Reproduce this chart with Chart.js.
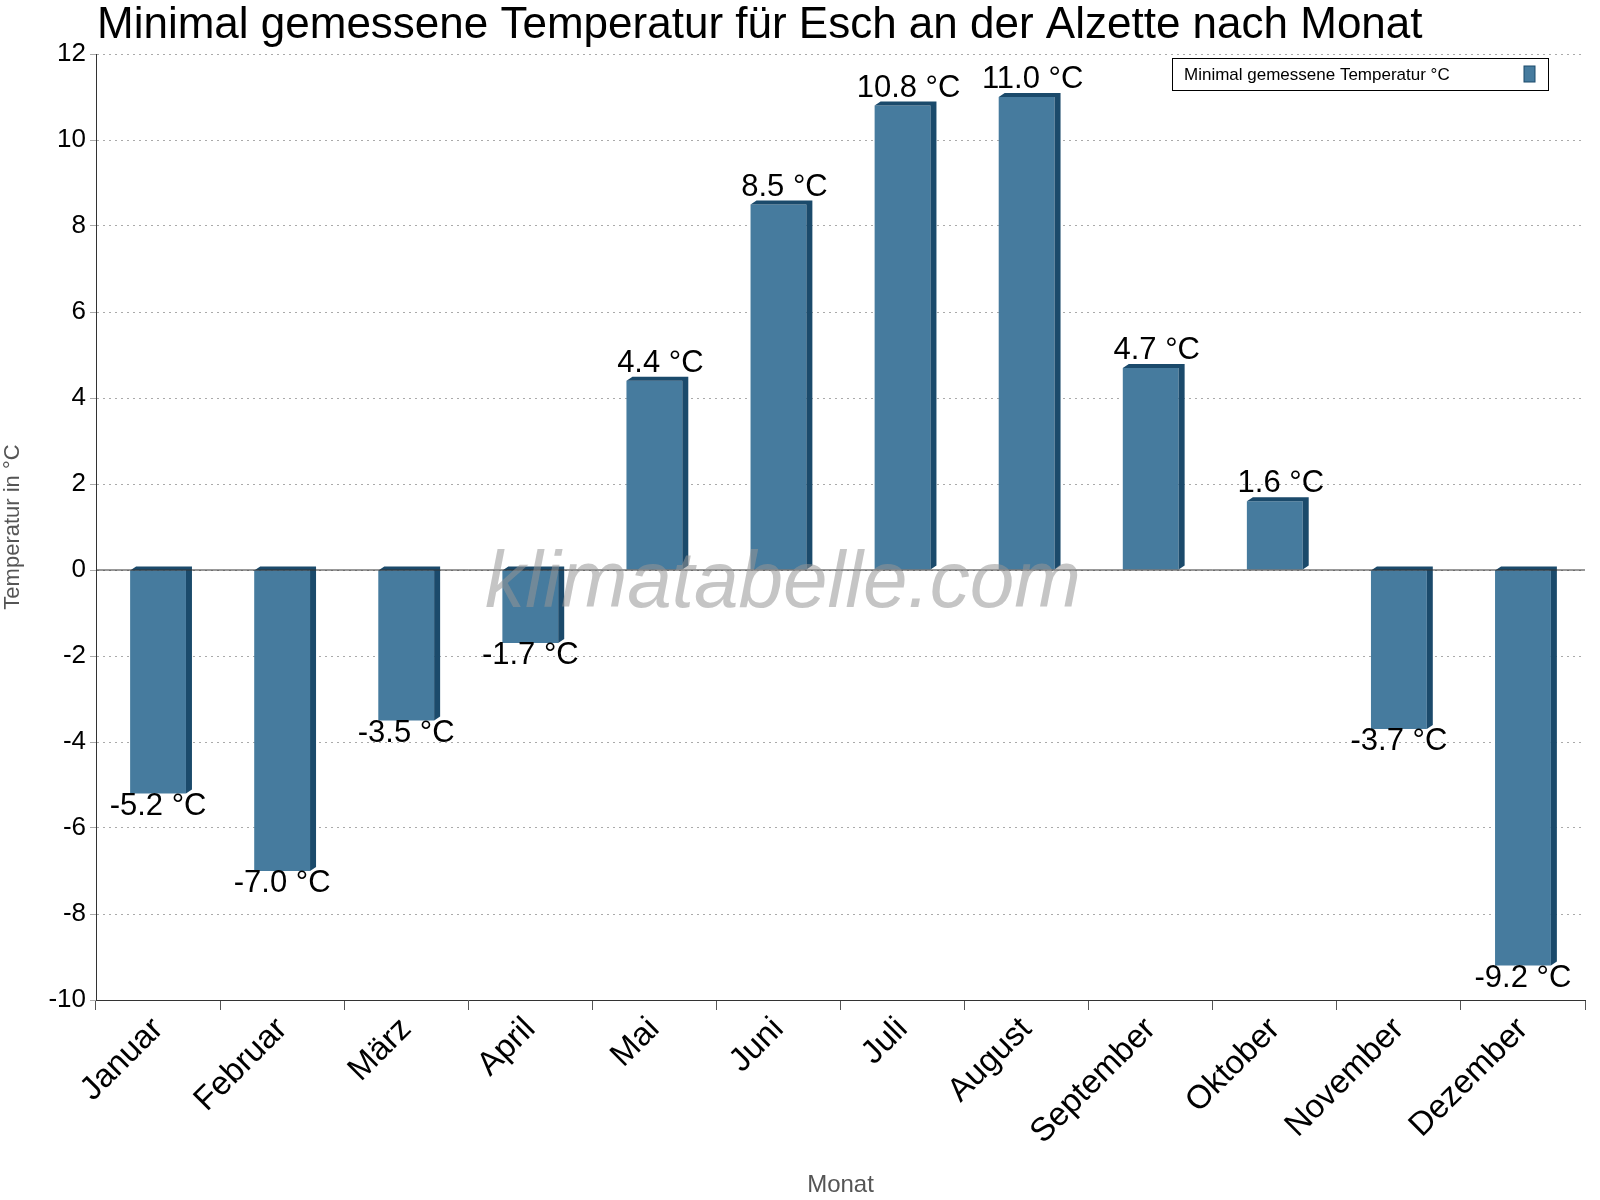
<!DOCTYPE html>
<html><head><meta charset="utf-8">
<script src="https://cdn.jsdelivr.net/npm/chart.js@4/dist/chart.umd.min.js"></script>
<style>html,body{margin:0;padding:0;background:#fff}#w{width:1600px;height:1200px}</style>
</head><body><div id="w"><canvas id="c"></canvas></div>
<script>
const months = ["Januar","Februar","März","April","Mai","Juni","Juli","August","September","Oktober","November","Dezember"];
const minTemps = [-5.2,-7.0,-3.5,-1.7,4.4,8.5,10.8,11.0,4.7,1.6,-3.7,-9.2];
const yTicks = [-10,-8,-6,-4,-2,0,2,4,6,8,10,12];
const F = "Arial, 'Liberation Sans', sans-serif";

const deco = {
  id:'deco',
  afterDatasetsDraw(chart){
    const ctx = chart.ctx, meta = chart.getDatasetMeta(0), ys = chart.scales.y, ca = chart.chartArea;
    const d = 6;
    ctx.save();
    meta.data.forEach((b,i)=>{
      const l = b.x - b.width/2, r = b.x + b.width/2;
      const top = Math.min(b.y, b.base), bot = Math.max(b.y, b.base);
      ctx.fillStyle = '#1b4a6b';
      ctx.beginPath();
      ctx.moveTo(l, top); ctx.lineTo(l+d, top-d/1.5); ctx.lineTo(r+d, top-d/1.5); ctx.lineTo(r+d, bot-d/1.5); ctx.lineTo(r, bot); ctx.lineTo(r, top); ctx.closePath();
      ctx.fill();
      const v = minTemps[i];
      ctx.fillStyle = '#000'; ctx.font = '31px '+F; ctx.textAlign='center';
      if (v >= 0){ ctx.textBaseline='bottom'; ctx.fillText(v.toFixed(1)+' °C', b.x+6, b.y-2); }
      else { ctx.textBaseline='top'; ctx.fillText(v.toFixed(1)+' °C', b.x, b.y-3); }
    });
    const z = ys.getPixelForValue(0);
    ctx.strokeStyle='#333'; ctx.lineWidth=1;
    ctx.beginPath(); ctx.moveTo(ca.left, z); ctx.lineTo(ca.right, z); ctx.stroke();
    ctx.beginPath(); ctx.moveTo(ca.left+0.5, ca.top); ctx.lineTo(ca.left+0.5, ca.bottom); ctx.stroke();
    ctx.fillStyle='rgba(150,150,150,0.55)'; ctx.font='italic 80px '+F; ctx.textAlign='center'; ctx.textBaseline='middle';
    ctx.fillText('klimatabelle.com', 783, 585);
    ctx.fillStyle='#000'; ctx.font='44px '+F; ctx.textAlign='left'; ctx.textBaseline='alphabetic';
    ctx.fillText('Minimal gemessene Temperatur für Esch an der Alzette nach Monat', 97, 38);
    ctx.font='17px '+F;
    const txt='Minimal gemessene Temperatur °C';
    const lx=1172, ly=58, lw=376, lh=32;
    ctx.fillStyle='#fff'; ctx.fillRect(lx,ly,lw,lh);
    ctx.strokeStyle='#000'; ctx.strokeRect(lx+0.5,ly+0.5,lw,lh);
    ctx.fillStyle='#000'; ctx.textBaseline='middle'; ctx.fillText(txt, lx+12, ly+lh/2+1);
    ctx.fillStyle='#467b9e'; ctx.fillRect(lx+lw-24, ly+8, 11, 16);
    ctx.strokeStyle='#1b4a6b'; ctx.strokeRect(lx+lw-24, ly+8, 11, 16);
    ctx.restore();
  }
};

new Chart(document.getElementById('c'), {
  type:'bar',
  data:{labels:months, datasets:[{label:'Minimal gemessene Temperatur °C', data:minTemps, backgroundColor:'#467b9e', barPercentage:0.45, categoryPercentage:1}]},
  options:{
    responsive:true, maintainAspectRatio:false, animation:false,
    layout:{padding:{top:54,right:15,left:0,bottom:0}},
    plugins:{legend:{display:false}, title:{display:false}, tooltip:{enabled:false}},
    scales:{
      x:{
        grid:{offset:true, drawOnChartArea:false, tickLength:10, color:'#555'},
        border:{color:'#333'},
        ticks:{color:'#000', font:{size:33, family:F}, maxRotation:45, minRotation:45, padding:0},
        title:{display:true, text:'Monat', color:'#555', font:{size:24, family:F}, padding:{top:0,bottom:0}},
        afterFit(s){ s.height = 200; }
      },
      y:{
        min:-10, max:12,
        afterBuildTicks(s){ s.ticks = yTicks.map(v=>({value:v})); },
        grid:{color:'#aaa', tickLength:6, drawTicks:true},
        border:{color:'#333', dash:[2,4]},
        ticks:{color:'#000', font:{size:26, family:F}, padding:4},
        title:{display:true, text:'Temperatur in °C', color:'#555', font:{size:22, family:F}, padding:{top:0,bottom:4}},
        afterFit(s){ s.width = 96; }
      }
    }
  },
  plugins:[deco]
});
</script></body></html>
